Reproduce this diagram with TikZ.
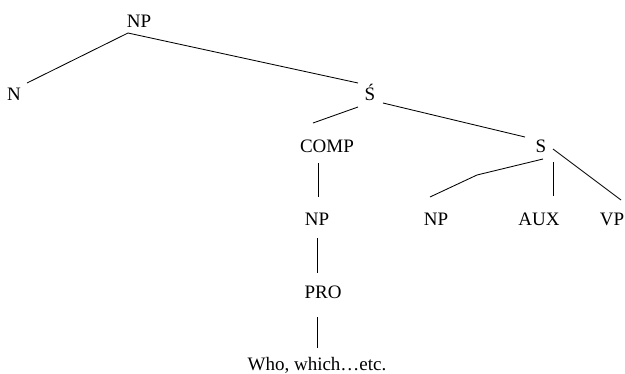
\documentclass[tikz,border=0pt]{standalone}
\usepackage{fontspec}
\setmainfont{Liberation Serif}
\begin{document}
\begin{tikzpicture}[x=1pt,y=-1pt,
  lbl/.style={inner sep=0pt,anchor=base,font=\fontsize{19}{23}\selectfont},
  edge/.style={line width=0.85pt,black}]
\useasboundingbox (0,0) rectangle (625,373);
% nodes (base positions)
\node[lbl] (np1) at (139,27) {NP};
\node[lbl] (n) at (14,100) {N};
\node[lbl] (sb) at (370,100) {Ś};
\node[lbl] (comp) at (327,152) {COMP};
\node[lbl] (s) at (541,152) {S};
\node[lbl] (np2) at (317,225) {NP};
\node[lbl] (np3) at (436,225) {NP};
\node[lbl] (aux) at (539,225) {AUX};
\node[lbl] (vp) at (612,225) {VP};
\node[lbl] (pro) at (323,298) {PRO};
\node[lbl] (who) at (317,370) {Who, which…etc.};
% connector end points
\coordinate (np1b) at (128,33);
\coordinate (nt) at (27,83);
\coordinate (sbl) at (358,83);
\coordinate (sbbl) at (358,107);
\coordinate (sbbr) at (383,103);
\coordinate (compt) at (313,123);
\coordinate (compb) at (318,163);
\coordinate (np2t) at (318,197);
\coordinate (np2b) at (317,238);
\coordinate (prot) at (317,273);
\coordinate (prob) at (317,317);
\coordinate (whot) at (317,348);
\coordinate (st) at (525,137);
\coordinate (sbnp) at (543,159);
\coordinate (kink) at (477,175);
\coordinate (np3t) at (430,197);
\coordinate (sbaux) at (553,162);
\coordinate (auxt) at (553,196);
\coordinate (sbvp) at (553,149);
\coordinate (vpt) at (621,200);
% connectors
\draw[edge] (np1b) -- (nt);
\draw[edge] (np1b) -- (sbl);
\draw[edge] (sbbl) -- (compt);
\draw[edge] (sbbr) -- (st);
\draw[edge] (compb) -- (np2t);
\draw[edge] (np2b) -- (prot);
\draw[edge] (prob) -- (whot);
\draw[edge] (sbnp) -- (kink) -- (np3t);
\draw[edge] (sbaux) -- (auxt);
\draw[edge] (sbvp) -- (vpt);
\end{tikzpicture}
\end{document}
